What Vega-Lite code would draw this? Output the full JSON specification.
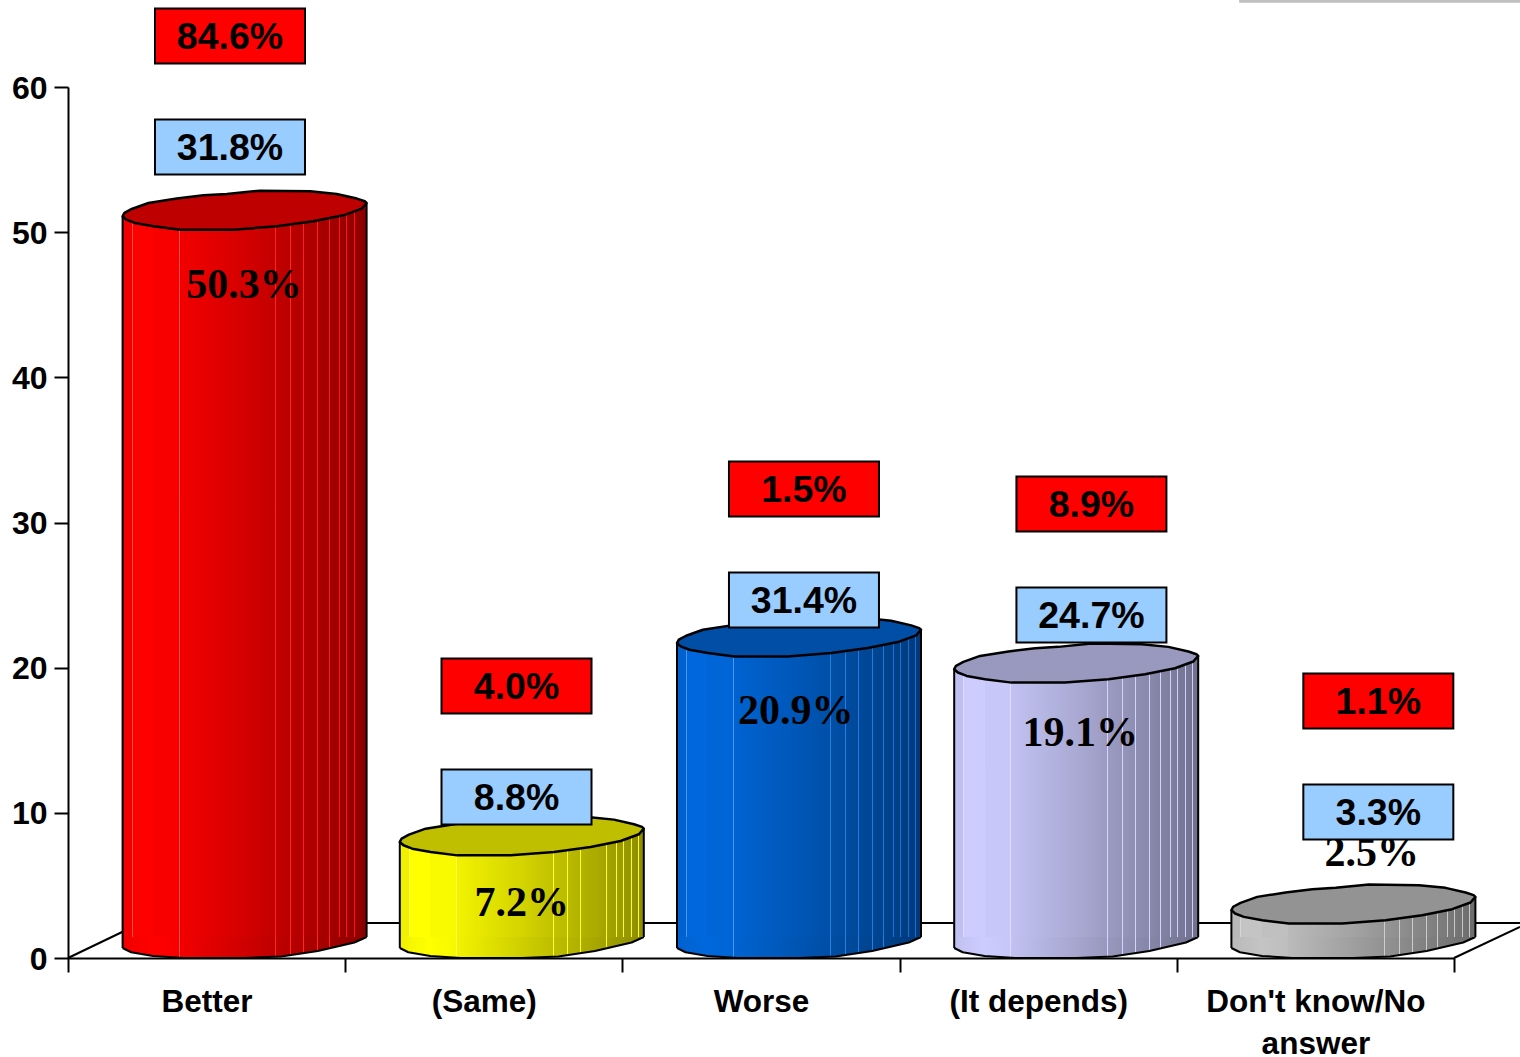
{
"$schema":"https://vega.github.io/schema/vega-lite/v6.json",
"autosize":"none",
"width":1386,"height":871,
"padding":{"left":68,"top":87,"right":66,"bottom":99},
"background":"white",
"config":{"view":{"stroke":null},"axis":{"title":null,"grid":false}},
"data":{"values":[
{"category":"Better","value":50.3,"valueLabel":"50.3%","textX":0.635,"textY":46.36,"tagX":0.5844,"blueAt":55.87,"blue":"31.8%","redAt":63.51,"red":"84.6%"},
{"category":"(Same)","value":7.2,"valueLabel":"7.2%","textX":1.637,"textY":3.79,"tagX":1.618,"blueAt":11.09,"blue":"8.8%","redAt":18.74,"red":"4.0%"},
{"category":"Worse","value":20.9,"valueLabel":"20.9%","textX":2.625,"textY":17.01,"tagX":2.655,"blueAt":24.66,"blue":"31.4%","redAt":32.31,"red":"1.5%"},
{"category":"(It depends)","value":19.1,"valueLabel":"19.1%","textX":3.652,"textY":15.5,"tagX":3.692,"blueAt":23.63,"blue":"24.7%","redAt":31.27,"red":"8.9%"},
{"category":"Don't know/No answer","value":2.5,"valueLabel":"2.5%","textX":4.703,"textY":7.23,"tagX":4.727,"blueAt":10.06,"blue":"3.3%","redAt":17.7,"red":"1.1%"}
]},
"resolve":{"scale":{"x":"independent"},"axis":{"x":"independent"}},
"layer":[
{"data":{"values":[{}]},
 "layer":[
  {"mark":{"type":"rule","color":"black","strokeWidth":2},
   "encoding":{"x":{"datum":0,"type":"quantitative","scale":{"domain":[0,5],"nice":false,"zero":false},"axis":null},"x2":{"datum":0.263},
    "y":{"datum":0,"type":"quantitative","scale":{"domain":[0,60],"nice":false},
      "axis":{"values":[0,10,20,30,40,50,60],"domainColor":"black","domainWidth":2,"tickColor":"black","tickWidth":2,"tickSize":14,"labelPadding":7,"labelOffset":1,"labelFont":"Liberation Sans","labelFontWeight":"bold","labelFontSize":32,"labelColor":"black"}},
    "y2":{"datum":2.41}}},
  {"mark":{"type":"rule","color":"black","strokeWidth":2},
   "encoding":{"x":{"datum":0.263,"type":"quantitative","axis":null},"x2":{"datum":5.238},"y":{"datum":2.41,"type":"quantitative"}}},
  {"mark":{"type":"rule","color":"black","strokeWidth":2},
   "encoding":{"x":{"datum":5,"type":"quantitative","axis":null},"x2":{"datum":5.238},"y":{"datum":0,"type":"quantitative"},"y2":{"datum":2.135}}},
  {"mark":{"type":"rule","color":"#bfbfbf","strokeWidth":3},
   "encoding":{"x":{"datum":4.225,"type":"quantitative","axis":null},"x2":{"datum":5.238},"y":{"datum":65.9,"type":"quantitative"}}}
 ]},
{"encoding":{
  "x":{"field":"category","type":"nominal","sort":null,"scale":{"paddingInner":0,"paddingOuter":0}},
  "y":{"field":"value","type":"quantitative"}},
 "layer":[
  {"mark":{"type":"point","filled":true,"opacity":1,"size":59536,"xOffset":38,"yOffset":-15.5,"shape":"M-1,-0.05L-1,0.045L-0.93,0.08L-0.75,0.11L-0.5,0.127L0,0.127L0.3,0.115L0.6,0.07L0.9,0L1,-0.045L1,-0.05Z"},
   "encoding":{"y":{"datum":0,"type":"quantitative"},
    "x":{"field":"category","type":"nominal","sort":null,"scale":{"paddingInner":0,"paddingOuter":0},
      "axis":{"tickBand":"extent","labelAngle":0,"domainColor":"black","domainWidth":2,"tickColor":"black","tickWidth":2,"tickSize":14,"labelPadding":14,"labelFont":"Liberation Sans","labelFontWeight":"bold","labelFontSize":31.5,"labelColor":"black","labelLineHeight":42,"labelLimit":0,"labelOverlap":false,"labelExpr":"datum.label == \"Don't know/No answer\" ? [\"Don't know/No\",\"answer\"] : datum.label"}},
    "fill":{"field":"category","type":"nominal","sort":null,"legend":null,"scale":{"domain":["Better","(Same)","Worse","(It depends)","Don't know/No answer"],"range":["#ff0000","#ffff00","#0068dc","#ccccff","#c4c4c4"]}}}},
  {"mark":{"type":"point","filled":true,"opacity":1,"size":59536,"xOffset":38,"yOffset":-15.5,"shape":"M-1,-0.05L-1,0.045L-0.93,0.08L-0.75,0.11L-0.5,0.127L0,0.127L0.3,0.115L0.6,0.07L0.9,0L1,-0.045L1,-0.05Z",
    "fill":{"gradient":"linear","x1":0,"x2":1,"y1":0,"y2":0,"stops":[
      {"offset":0,"color":"rgba(0,0,0,0.06)"},{"offset":0.12,"color":"rgba(0,0,0,0)"},
      {"offset":0.23,"color":"rgba(0,0,0,0.03)"},{"offset":0.23,"color":"rgba(255,255,255,0.3)"},{"offset":0.234,"color":"rgba(255,255,255,0.3)"},{"offset":0.234,"color":"rgba(0,0,0,0.05)"},
      {"offset":0.626,"color":"rgba(0,0,0,0.256)"},{"offset":0.626,"color":"rgba(255,255,255,0.15)"},{"offset":0.63,"color":"rgba(255,255,255,0.15)"},{"offset":0.63,"color":"rgba(0,0,0,0.256)"},
      {"offset":0.687,"color":"rgba(0,0,0,0.287)"},{"offset":0.687,"color":"rgba(255,255,255,0.15)"},{"offset":0.691,"color":"rgba(255,255,255,0.15)"},{"offset":0.691,"color":"rgba(0,0,0,0.287)"},
      {"offset":0.74,"color":"rgba(0,0,0,0.315)"},{"offset":0.74,"color":"rgba(255,255,255,0.15)"},{"offset":0.744,"color":"rgba(255,255,255,0.15)"},{"offset":0.744,"color":"rgba(0,0,0,0.317)"},
      {"offset":0.798,"color":"rgba(0,0,0,0.345)"},{"offset":0.798,"color":"rgba(255,255,255,0.15)"},{"offset":0.802,"color":"rgba(255,255,255,0.15)"},{"offset":0.802,"color":"rgba(0,0,0,0.347)"},
      {"offset":0.844,"color":"rgba(0,0,0,0.369)"},{"offset":0.844,"color":"rgba(255,255,255,0.15)"},{"offset":0.848,"color":"rgba(255,255,255,0.15)"},{"offset":0.848,"color":"rgba(0,0,0,0.371)"},
      {"offset":1,"color":"rgba(0,0,0,0.45)"}]}},
   "encoding":{"y":{"datum":0,"type":"quantitative"}}},
  {"mark":{"type":"point","filled":false,"opacity":1,"stroke":"black","strokeWidth":2,"strokeJoin":"round","size":59536,"xOffset":38,"yOffset":-15.5,"shape":"M-1,0.045L-0.93,0.08L-0.75,0.11L-0.5,0.127L0,0.127L0.3,0.115L0.6,0.07L0.9,0L1,-0.045"},
   "encoding":{"y":{"datum":0,"type":"quantitative"}}},
  {"mark":{"type":"rect","width":125,"xOffset":-22,"yOffset":-11.5,"y2Offset":-21},
   "encoding":{"y2":{"datum":0},"fill":{"field":"category","type":"nominal","sort":null,"legend":null}}},
  {"mark":{"type":"rect","width":122,"xOffset":99,"yOffset":-24.5,"y2Offset":-21},
   "encoding":{"y2":{"datum":0},"fill":{"field":"category","type":"nominal","sort":null,"legend":null}}},
  {"mark":{"type":"rect","width":122,"xOffset":-23,"yOffset":-11.5,"y2Offset":-21,
    "fill":{"gradient":"linear","x1":0,"x2":1,"y1":0,"y2":0,"stops":[
      {"offset":0,"color":"rgba(0,0,0,0.06)"},{"offset":0.074,"color":"rgba(0,0,0,0.06)"},
      {"offset":0.074,"color":"rgba(255,255,255,0.3)"},{"offset":0.082,"color":"rgba(255,255,255,0.3)"},
      {"offset":0.082,"color":"rgba(0,0,0,0)"},{"offset":0.25,"color":"rgba(0,0,0,0)"},
      {"offset":0.25,"color":"rgba(0,0,0,0.025)"},{"offset":0.46,"color":"rgba(0,0,0,0.025)"},
      {"offset":0.46,"color":"rgba(255,255,255,0.3)"},{"offset":0.468,"color":"rgba(255,255,255,0.3)"},
      {"offset":0.468,"color":"rgba(0,0,0,0.05)"},{"offset":1,"color":"rgba(0,0,0,0.17)"}]}},
   "encoding":{"y2":{"datum":0}}},
  {"mark":{"type":"rect","width":122,"xOffset":99,"yOffset":-24.5,"y2Offset":-21,
    "fill":{"gradient":"linear","x1":0,"x2":1,"y1":0,"y2":0,"stops":[
      {"offset":0,"color":"rgba(0,0,0,0.17)"},{"offset":0.252,"color":"rgba(0,0,0,0.24)"},
      {"offset":0.252,"color":"rgba(255,255,255,0.14)"},{"offset":0.26,"color":"rgba(255,255,255,0.14)"},
      {"offset":0.26,"color":"rgba(0,0,0,0.24)"},{"offset":0.374,"color":"rgba(0,0,0,0.27)"},
      {"offset":0.374,"color":"rgba(255,255,255,0.14)"},{"offset":0.382,"color":"rgba(255,255,255,0.14)"},
      {"offset":0.382,"color":"rgba(0,0,0,0.27)"},{"offset":0.48,"color":"rgba(0,0,0,0.3)"},
      {"offset":0.48,"color":"rgba(255,255,255,0.12)"},{"offset":0.488,"color":"rgba(255,255,255,0.12)"},
      {"offset":0.488,"color":"rgba(0,0,0,0.3)"},{"offset":0.596,"color":"rgba(0,0,0,0.33)"},
      {"offset":0.596,"color":"rgba(255,255,255,0.12)"},{"offset":0.604,"color":"rgba(255,255,255,0.12)"},
      {"offset":0.604,"color":"rgba(0,0,0,0.33)"},{"offset":0.688,"color":"rgba(0,0,0,0.36)"},
      {"offset":0.688,"color":"rgba(255,255,255,0.1)"},{"offset":0.696,"color":"rgba(255,255,255,0.1)"},
      {"offset":0.696,"color":"rgba(0,0,0,0.36)"},{"offset":0.77,"color":"rgba(0,0,0,0.38)"},
      {"offset":0.77,"color":"rgba(255,255,255,0.08)"},{"offset":0.778,"color":"rgba(255,255,255,0.08)"},
      {"offset":0.778,"color":"rgba(0,0,0,0.38)"},{"offset":0.828,"color":"rgba(0,0,0,0.4)"},
      {"offset":0.828,"color":"rgba(255,255,255,0.08)"},{"offset":0.836,"color":"rgba(255,255,255,0.08)"},
      {"offset":0.836,"color":"rgba(0,0,0,0.4)"},{"offset":0.894,"color":"rgba(0,0,0,0.42)"},
      {"offset":0.894,"color":"rgba(255,255,255,0.06)"},{"offset":0.902,"color":"rgba(255,255,255,0.06)"},
      {"offset":0.902,"color":"rgba(0,0,0,0.42)"},{"offset":0.95,"color":"rgba(0,0,0,0.44)"},
      {"offset":0.95,"color":"rgba(255,255,255,0.06)"},{"offset":0.958,"color":"rgba(255,255,255,0.06)"},
      {"offset":0.958,"color":"rgba(0,0,0,0.44)"},{"offset":1,"color":"rgba(0,0,0,0.45)"}]}},
   "encoding":{"y2":{"datum":0}}},
  {"mark":{"type":"rule","color":"black","strokeWidth":2,"xOffset":-84,"yOffset":-11.5,"y2Offset":-10},
   "encoding":{"y2":{"datum":0}}},
  {"mark":{"type":"rule","color":"black","strokeWidth":2,"xOffset":160,"yOffset":-24.5,"y2Offset":-21},
   "encoding":{"y2":{"datum":0}}},
  {"mark":{"type":"point","filled":true,"opacity":1,"size":59536,"xOffset":38,"yOffset":-18,"shape":"M-1,0.053L-0.985,0.025L-0.925,-0.007L-0.788,-0.056L-0.556,-0.092L-0.337,-0.119L-0.146,-0.13L0.127,-0.157L0.537,-0.152L0.755,-0.13L0.92,-0.092L0.985,-0.07L1,-0.056L0.96,-0.01L0.81,0.045L0.564,0.094L0.264,0.135L-0.092,0.163L-0.529,0.163L-0.747,0.135L-0.898,0.108L-0.97,0.08Z"},
   "encoding":{"fill":{"field":"category","type":"nominal","sort":null,"legend":null}}},
  {"mark":{"type":"point","filled":true,"opacity":1,"fill":"black","fillOpacity":0.25,"stroke":"black","strokeWidth":2.5,"strokeOpacity":1,"strokeJoin":"round","size":59536,"xOffset":38,"yOffset":-18,"shape":"M-1,0.053L-0.985,0.025L-0.925,-0.007L-0.788,-0.056L-0.556,-0.092L-0.337,-0.119L-0.146,-0.13L0.127,-0.157L0.537,-0.152L0.755,-0.13L0.92,-0.092L0.985,-0.07L1,-0.056L0.96,-0.01L0.81,0.045L0.564,0.094L0.264,0.135L-0.092,0.163L-0.529,0.163L-0.747,0.135L-0.898,0.108L-0.97,0.08Z"}}
 ]},
{"encoding":{"x":{"field":"textX","type":"quantitative","scale":{"domain":[0,5],"nice":false,"zero":false},"axis":null}},
 "layer":[
  {"mark":{"type":"text","font":"Liberation Serif","fontWeight":"bold","fontSize":42,"color":"black","baseline":"middle","align":"center"},
   "encoding":{"y":{"field":"textY","type":"quantitative"},"text":{"field":"valueLabel"}}},
  {"mark":{"type":"rect","width":150,"height":55,"fill":"#ff0000","stroke":"black","strokeWidth":2},
   "encoding":{"x":{"field":"tagX","type":"quantitative","axis":null},"y":{"field":"redAt","type":"quantitative"}}},
  {"mark":{"type":"text","font":"Liberation Sans","fontWeight":"bold","fontSize":37.5,"color":"black","baseline":"middle","align":"center","dy":2},
   "encoding":{"x":{"field":"tagX","type":"quantitative","axis":null},"y":{"field":"redAt","type":"quantitative"},"text":{"field":"red"}}},
  {"mark":{"type":"rect","width":150,"height":55,"fill":"#99ccff","stroke":"black","strokeWidth":2},
   "encoding":{"x":{"field":"tagX","type":"quantitative","axis":null},"y":{"field":"blueAt","type":"quantitative"}}},
  {"mark":{"type":"text","font":"Liberation Sans","fontWeight":"bold","fontSize":37.5,"color":"black","baseline":"middle","align":"center","dy":2},
   "encoding":{"x":{"field":"tagX","type":"quantitative","axis":null},"y":{"field":"blueAt","type":"quantitative"},"text":{"field":"blue"}}}
 ]}
]
}
